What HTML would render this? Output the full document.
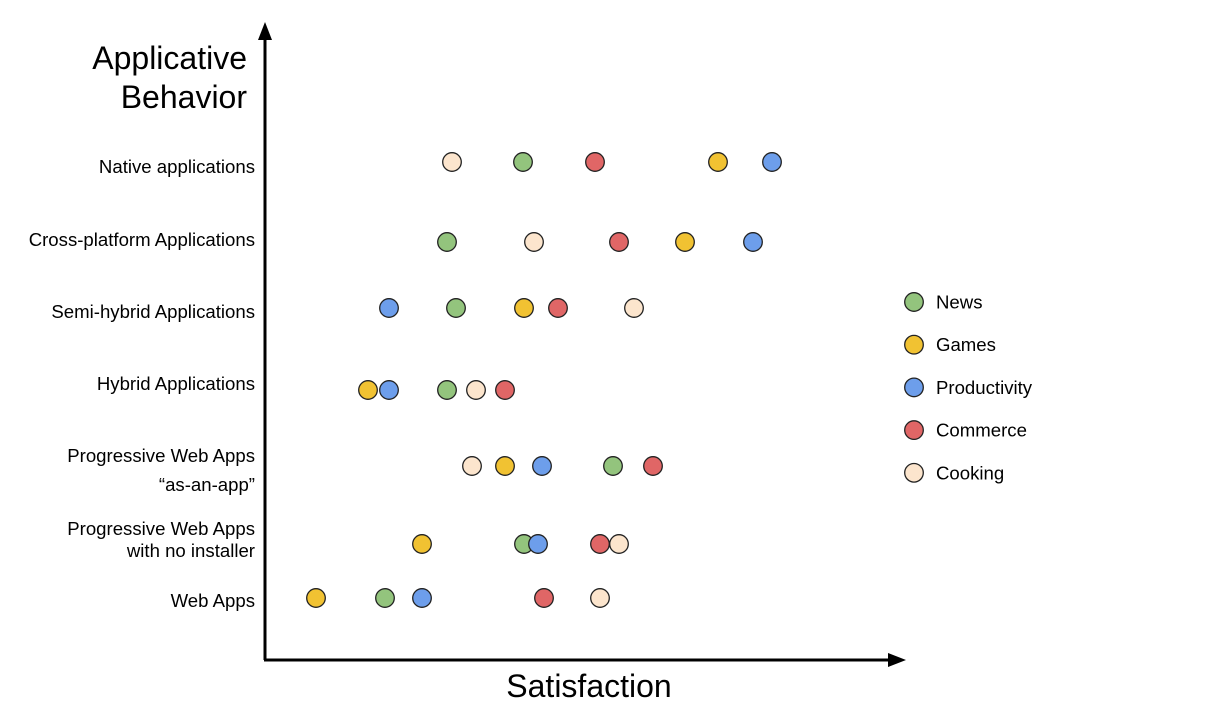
<!DOCTYPE html>
<html><head><meta charset="utf-8"><style>
html,body{margin:0;padding:0;background:#fff;}
svg{display:block;font-family:"Liberation Sans",Arial,sans-serif;}
</style></head><body>
<svg id="chart" width="1228" height="719" viewBox="0 0 1228 719">
<g id="axes">
<line x1="265" y1="660" x2="265" y2="38" stroke="#000" stroke-width="3"/>
<polygon points="265,22 258,40 272,40" fill="#000"/>
<line x1="264" y1="660" x2="888" y2="660" stroke="#000" stroke-width="3"/>
<polygon points="906,660 888,653 888,667" fill="#000"/>
<text x="247" y="69" font-size="32" text-anchor="end">Applicative</text>
<text x="247" y="108" font-size="32" text-anchor="end">Behavior</text>
<text x="589" y="697" font-size="32" text-anchor="middle">Satisfaction</text>
</g>
<g id="rows"></g>
<g id="marks"></g>
<g id="legend"></g>
</svg>
<script>
const categories = [
  ["Native applications"],
  ["Cross-platform Applications"],
  ["Semi-hybrid Applications"],
  ["Hybrid Applications"],
  ["Progressive Web Apps", "\u201Cas-an-app\u201D"],
  ["Progressive Web Apps", "with no installer"],
  ["Web Apps"]
];
const seriesNames = ["News", "Games", "Productivity", "Commerce", "Cooking"];
const seriesColors = ["#93c47d", "#f1c232", "#6d9eeb", "#e06666", "#fce5cd"];
// satisfaction values (0..640 scale), one per category
const news =         [258, 182, 191, 182, 348, 259, 120];
const games =        [453, 420, 259, 103, 240, 157, 51];
const productivity = [507, 488, 124, 124, 277, 273, 157];
const commerce =     [330, 354, 293, 240, 388, 335, 279];
const cooking =      [187, 269, 369, 211, 207, 354, 335];
const seriesValues = [news, games, productivity, commerce, cooking];

const NS = "http://www.w3.org/2000/svg";
const rowY = [162, 242, 308, 390, 466, 544, 598];
const labelBase = [[173], [246], [318], [390], [462, 491], [535, 557], [607]];
function xScale(v){ return 265 + v; }
function yScale(i){ return rowY[i]; }

const rows = document.getElementById("rows");
categories.forEach((lines, i) => {
  const t = document.createElementNS(NS, "text");
  t.setAttribute("x", 255);
  t.setAttribute("text-anchor", "end");
  t.setAttribute("font-size", "18.6");
  
  
  lines.forEach((ln, k) => {
    const ts = document.createElementNS(NS, "tspan");
    ts.setAttribute("x", 255);
    ts.setAttribute("y", labelBase[i][k]);
    ts.textContent = ln;
    t.appendChild(ts);
  });
  rows.appendChild(t);
});

const marks = document.getElementById("marks");
seriesValues.forEach((vals, s) => {
  vals.forEach((v, i) => {
    const c = document.createElementNS(NS, "circle");
    c.setAttribute("cx", xScale(v));
    c.setAttribute("cy", yScale(i));
    c.setAttribute("r", 9.3);
    c.setAttribute("fill", seriesColors[s]);
    c.setAttribute("stroke", "#222");
    c.setAttribute("stroke-width", "1.3");
    
    
    marks.appendChild(c);
  });
});

const legend = document.getElementById("legend");
seriesNames.forEach((n, s) => {
  const y = 302 + s * 42.7;
  const c = document.createElementNS(NS, "circle");
  c.setAttribute("cx", 914);
  c.setAttribute("cy", y);
  c.setAttribute("r", 9.3);
  c.setAttribute("fill", seriesColors[s]);
  c.setAttribute("stroke", "#222");
  c.setAttribute("stroke-width", "1.3");
  
  
  legend.appendChild(c);
  const t = document.createElementNS(NS, "text");
  t.setAttribute("x", 936);
  t.setAttribute("y", y + 6.5);
  t.setAttribute("font-size", "18.6");
  t.textContent = n;
  
  
  legend.appendChild(t);
});
</script>
</body></html>
